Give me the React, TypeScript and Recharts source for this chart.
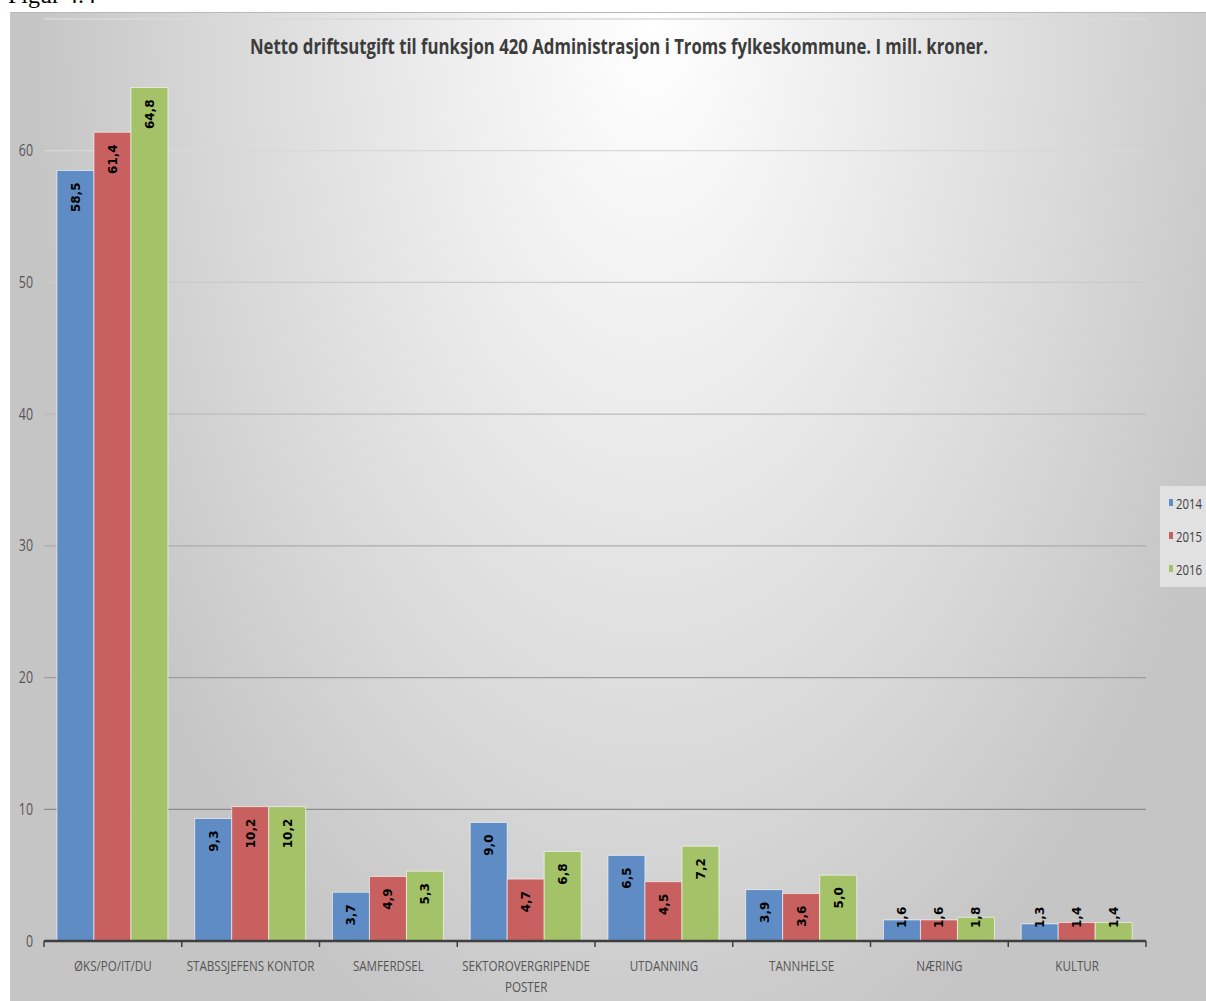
import { BarChart, Bar, XAxis, YAxis, CartesianGrid, Legend, LabelList } from "recharts";

const categories = [
  "ØKS/PO/IT/DU",
  "STABSSJEFENS KONTOR",
  "SAMFERDSEL",
  "SEKTOROVERGRIPENDE POSTER",
  "UTDANNING",
  "TANNHELSE",
  "NÆRING",
  "KULTUR",
];
const values2014 = [58.5, 9.3, 3.7, 9.0, 6.5, 3.9, 1.6, 1.3];
const values2015 = [61.4, 10.2, 4.9, 4.7, 4.5, 3.6, 1.6, 1.4];
const values2016 = [64.8, 10.2, 5.3, 6.8, 7.2, 5.0, 1.8, 1.4];
const yTicks = [0, 10, 20, 30, 40, 50, 60];

const title = "Netto driftsutgift til funksjon 420 Administrasjon i Troms fylkeskommune. I mill. kroner.";

const data = categories.map((name, i) => ({
  name,
  y2014: values2014[i],
  y2015: values2015[i],
  y2016: values2016[i],
}));

const W = 1206;
const H = 1001;
const margin = { top: 19, right: 60, bottom: 10, left: 0 };
const yAxisWidth = 44;
const band = (W - margin.right - margin.left - yAxisWidth) / categories.length;

// rotated value label, sits just inside the top of the bar but never closer than 13px to the base
const ValueLabel = (props: any) => {
  const { x, y, width, height, value } = props;
  const text = Number(value).toFixed(1).replace(".", ",");
  const len = (text.length - 1) * 8.35 + 4.56;
  const cx = Number(x) + Number(width) / 2;
  const top = Number(y);
  const base = top + Number(height);
  const bottom = Math.min(top + 12 + len, base - 13);
  return (
    <text
      x={cx}
      y={bottom}
      transform={`rotate(-90 ${cx} ${bottom})`}
      textAnchor="start"
      dy="0.36em"
      fontFamily="DejaVu Sans"
      fontWeight={700}
      fontSize={12}
      fill="#000"
    >
      {text}
    </text>
  );
};

const XTick = (props: any) => {
  const { x, y, payload, index } = props;
  const label: string = payload.value;
  const lines = label.length > 20 ? label.split(" ") : [label];
  return (
    <g>
      <line x1={x - band / 2} y1={y} x2={x - band / 2} y2={y + 6} stroke="#404040" strokeWidth={1.5} />
      {index === categories.length - 1 && (
        <line x1={x + band / 2} y1={y} x2={x + band / 2} y2={y + 6} stroke="#404040" strokeWidth={1.5} />
      )}
      <g transform={`translate(${x},${y})`}>
        <text transform="scale(0.8,1)" textAnchor="middle" fontFamily="Open Sans" fontSize={14.5} fill="#555">
          {lines.map((l, i) => (
            <tspan key={i} x={0} y={30 + i * 21}>
              {l}
            </tspan>
          ))}
        </text>
      </g>
    </g>
  );
};

const YTick = (props: any) => {
  const { x, y, payload } = props;
  return (
    <g transform={`translate(${x},${y})`}>
      <text transform="scale(0.8,1)" textAnchor="end" dy="0.36em" fontFamily="Open Sans" fontSize={15.5} fill="#555">
        {payload.value}
      </text>
    </g>
  );
};

const LegendBox = ({ payload }: any) => (
  <div style={{ background: "#e1e1e1", width: 50, height: 101, boxSizing: "border-box" }}>
    {(payload || []).map((p: any) => (
      <div key={p.value} style={{ display: "flex", alignItems: "center", height: 33 }}>
        <span style={{ display: "inline-block", width: 7, height: 7, background: p.color, marginLeft: 9, marginRight: 3 }} />
        <span
          style={{
            display: "inline-block",
            fontFamily: "Open Sans",
            fontSize: 15,
            color: "#404040",
            transform: "scaleX(0.76)",
            transformOrigin: "left center",
          }}
        >
          {p.value}
        </span>
      </div>
    ))}
  </div>
);

export default function App() {
  return (
    <div style={{ position: "fixed", left: 0, top: 0, width: W, height: H, overflow: "hidden", background: "#fff" }}>
      <div
        style={{
          position: "absolute",
          left: 8,
          top: -19,
          fontFamily: "Liberation Serif",
          fontSize: 24,
          lineHeight: "28px",
          color: "#000",
        }}
      >
        Figur 4.4
      </div>
      <div
        style={{
          position: "absolute",
          left: 10,
          top: 12,
          width: 1200,
          height: 1000,
          borderTop: "1px solid #b8b8b8",
          borderLeft: "1px solid #c8c8c8",
          background:
            "radial-gradient(620px 1100px at 640px 8px, #ffffff 0%, #ececec 35%, #d8d8d8 70%, #c5c5c5 100%)",
        }}
      />
      <div style={{ position: "absolute", left: 0, top: 0 }}>
        <BarChart
          width={W}
          height={H}
          data={data}
          margin={margin}
          barCategoryGap="9.4%"
          barGap={0}
          style={{ fontFamily: "Open Sans" }}
        >
          <defs>
            <linearGradient id="gridFade" gradientUnits="userSpaceOnUse" x1="0" y1="140" x2="0" y2="820">
              <stop offset="0" stopColor="#d9d9d9" />
              <stop offset="0.5" stopColor="#b4b4b4" />
              <stop offset="1" stopColor="#8a8a8a" />
            </linearGradient>
          </defs>
          <text
            x={619}
            y={54}
            textAnchor="middle"
            textLength={738}
            lengthAdjust="spacingAndGlyphs"
            fontFamily="Open Sans"
            fontWeight={700}
            fontSize={22}
            fill="#3c3c3c"
          >
            {title}
          </text>
          <CartesianGrid vertical={false} stroke="url(#gridFade)" strokeWidth={1.3} />
          <XAxis
            dataKey="name"
            interval={0}
            height={50}
            tickLine={false}
            tickSize={0}
            tickMargin={0}
            axisLine={{ stroke: "#3f3f3f", strokeWidth: 2.5 }}
            tick={<XTick />}
          />
          <YAxis
            width={yAxisWidth}
            domain={[0, 70]}
            ticks={yTicks}
            interval={0}
            axisLine={false}
            tickLine={false}
            tickSize={0}
            tickMargin={11}
            tick={<YTick />}
          />
          <Legend
            layout="vertical"
            align="center"
            verticalAlign="middle"
            content={<LegendBox />}
            wrapperStyle={{ position: "absolute", left: 1160, top: 486, width: 50, height: 101 }}
          />
          <Bar dataKey="y2014" name="2014" fill="#5f8cc4" stroke="rgba(255,255,255,0.6)" strokeWidth={1} isAnimationActive={false}>
            <LabelList dataKey="y2014" content={<ValueLabel />} />
          </Bar>
          <Bar dataKey="y2015" name="2015" fill="#c7605e" stroke="rgba(255,255,255,0.6)" strokeWidth={1} isAnimationActive={false}>
            <LabelList dataKey="y2015" content={<ValueLabel />} />
          </Bar>
          <Bar dataKey="y2016" name="2016" fill="#a4c268" stroke="rgba(255,255,255,0.6)" strokeWidth={1} isAnimationActive={false}>
            <LabelList dataKey="y2016" content={<ValueLabel />} />
          </Bar>
        </BarChart>
      </div>
    </div>
  );
}
